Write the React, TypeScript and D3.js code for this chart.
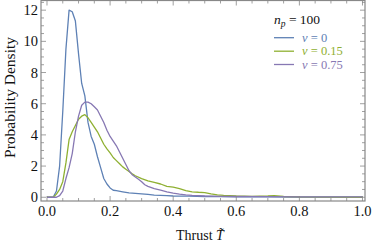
import React from 'react';
import * as d3 from 'd3';

// ν = 0
const blueT = [0, 0.01, 0.02, 0.03, 0.04, 0.05, 0.06, 0.07, 0.08, 0.09, 0.10, 0.11, 0.12, 0.13, 0.14, 0.15, 0.16, 0.17, 0.18, 0.19, 0.20, 0.21, 0.22, 0.24, 0.26, 0.28, 0.30, 0.32, 0.34, 0.36, 0.38, 0.40, 0.45, 0.50, 0.55, 0.60, 0.70, 0.80, 0.90, 1.00];
const blueD = [0, 0, 0.02, 0.4, 2.0, 5.5, 9.5, 12.0, 11.9, 11.3, 9.2, 7.3, 6.5, 4.8, 3.9, 3.4, 2.6, 1.9, 1.2, 0.85, 0.6, 0.45, 0.42, 0.35, 0.28, 0.25, 0.22, 0.18, 0.14, 0.12, 0.1, 0.08, 0.07, 0.05, 0.04, 0.03, 0.02, 0.01, 0.01, 0.01];

// ν = 0.15
const greenT = [0, 0.01, 0.02, 0.03, 0.04, 0.05, 0.06, 0.07, 0.08, 0.09, 0.10, 0.11, 0.12, 0.13, 0.14, 0.15, 0.16, 0.17, 0.18, 0.19, 0.20, 0.21, 0.22, 0.23, 0.24, 0.25, 0.26, 0.27, 0.28, 0.30, 0.32, 0.34, 0.36, 0.38, 0.40, 0.42, 0.44, 0.46, 0.48, 0.50, 0.52, 0.54, 0.56, 0.58, 0.60, 0.65, 0.70, 0.72, 0.75, 0.80, 0.90, 1.00];
const greenD = [0, 0, 0, 0.2, 0.5, 1.0, 2.2, 3.7, 4.2, 4.6, 5.0, 5.2, 5.3, 5.1, 4.8, 4.5, 4.2, 3.8, 3.4, 3.1, 2.85, 2.55, 2.35, 2.15, 1.95, 1.8, 1.65, 1.5, 1.38, 1.2, 1.05, 0.95, 0.85, 0.7, 0.65, 0.55, 0.42, 0.35, 0.32, 0.3, 0.22, 0.15, 0.12, 0.1, 0.08, 0.06, 0.08, 0.1, 0.05, 0.02, 0.01, 0];

// ν = 0.75
const purpleT = [0, 0.01, 0.02, 0.03, 0.04, 0.05, 0.06, 0.07, 0.08, 0.09, 0.10, 0.11, 0.12, 0.13, 0.14, 0.15, 0.16, 0.17, 0.18, 0.19, 0.20, 0.21, 0.22, 0.23, 0.24, 0.25, 0.26, 0.27, 0.28, 0.29, 0.30, 0.31, 0.32, 0.34, 0.36, 0.38, 0.40, 0.42, 0.44, 0.46, 0.50, 0.55, 0.60, 0.70, 0.80, 0.90, 1.00];
const purpleD = [0, 0, 0, 0, 0.1, 0.4, 1.2, 1.9, 2.8, 4.2, 5.2, 5.9, 6.1, 6.1, 6.0, 5.8, 5.6, 5.2, 4.8, 4.3, 3.9, 3.6, 3.3, 2.9, 2.5, 2.1, 1.7, 1.45, 1.3, 1.15, 1.0, 0.8, 0.7, 0.55, 0.45, 0.35, 0.26, 0.2, 0.15, 0.12, 0.08, 0.06, 0.05, 0.04, 0.03, 0.02, 0.02];

const xTicks = [0, 0.2, 0.4, 0.6, 0.8, 1.0];
const xTickLabels = ['0.0', '0.2', '0.4', '0.6', '0.8', '1.0'];
const yTicks = [0, 2, 4, 6, 8, 10, 12];
const yTickLabels = ['0', '2', '4', '6', '8', '10', '12'];

const seriesNames = ['0', '0.15', '0.75'];
const colors = ['#5E81B5', '#8FB032', '#8778B3'];

export default function App() {
  const W = 374, H = 246;
  const L = 41, R = 365, T = 0.5, B = 201;
  const x = d3.scaleLinear().domain([-0.019, 1.008]).range([L, R]);
  const y = d3.scaleLinear().domain([-0.24, 12.62]).range([B, T]);
  const line = d3.line<[number, number]>().x(d => x(d[0])).y(d => y(d[1]));
  const series = [
    blueT.map((t, i) => [t, blueD[i]] as [number, number]),
    greenT.map((t, i) => [t, greenD[i]] as [number, number]),
    purpleT.map((t, i) => [t, purpleD[i]] as [number, number]),
  ];
  const xMinor = d3.range(0, 21).map(i => i * 0.05);
  const yMinor = d3.range(0, 26).map(i => i * 0.5);
  const frame = '#888';
  const font = 'Liberation Serif, Times New Roman, serif';
  const legendY = [37.7, 51.2, 64.5];
  return (
    <svg width={W} height={H} style={{ position: 'absolute', left: 0, top: 0 }} fontFamily={font}>
      <rect x={0} y={0} width={W} height={H} fill="#fff" />
      <defs>
        <clipPath id="pc"><rect x={L} y={T} width={R - L} height={B - T} /></clipPath>
      </defs>
      <g clipPath="url(#pc)">
        {series.map((s, i) => (
          <path key={i} d={line(s) || ''} fill="none" stroke={colors[i]} strokeWidth={1.3} strokeLinejoin="round" />
        ))}
      </g>
      {xMinor.map((v, i) => {
        const major = i % 4 === 0;
        const len = major ? 5 : 3;
        return (
          <g key={'xt' + i} stroke={frame} strokeWidth={0.8}>
            <line x1={x(v)} x2={x(v)} y1={B} y2={B - len} />
            <line x1={x(v)} x2={x(v)} y1={T} y2={T + len} />
          </g>
        );
      })}
      {yMinor.map((v, i) => {
        const major = i % 4 === 0;
        const len = major ? 5 : 3;
        return (
          <g key={'yt' + i} stroke={frame} strokeWidth={0.8}>
            <line x1={L} x2={L + len} y1={y(v)} y2={y(v)} />
            <line x1={R} x2={R - len} y1={y(v)} y2={y(v)} />
          </g>
        );
      })}
      <rect x={L} y={T} width={R - L} height={B - T} fill="none" stroke={frame} strokeWidth={1.2} />
      {xTicks.map((v, i) => (
        <text key={'xl' + i} x={x(v)} y={216} textAnchor="middle" fontSize={14.5} fill="#111">{xTickLabels[i]}</text>
      ))}
      {yTicks.map((v, i) => (
        <text key={'yl' + i} x={38} y={y(v) + 5} textAnchor="end" fontSize={14.5} fill="#111">{yTickLabels[i]}</text>
      ))}
      <text x={176} y={240} fontSize={14} fill="#111">Thrust <tspan fontStyle="italic">T&#771;</tspan></text>
      <text transform={`translate(15,97.5) rotate(-90)`} textAnchor="middle" fontSize={15.5} fill="#111">Probability Density</text>
      <text x={274} y={24} fontSize={13.5} fill="#111">
        <tspan fontStyle="italic">n</tspan>
        <tspan fontStyle="italic" fontSize={9.5} dy={3}>p</tspan>
        <tspan dy={-3}> = 100</tspan>
      </text>
      {seriesNames.map((n, i) => (
        <g key={'lg' + i}>
          <line x1={274} x2={294} y1={legendY[i]} y2={legendY[i]} stroke={colors[i]} strokeWidth={1.3} />
          <text x={302} y={legendY[i] + 4} fontSize={12.5} fill={colors[i]}>
            <tspan fontStyle="italic">ν</tspan> = {n}
          </text>
        </g>
      ))}
    </svg>
  );
}
